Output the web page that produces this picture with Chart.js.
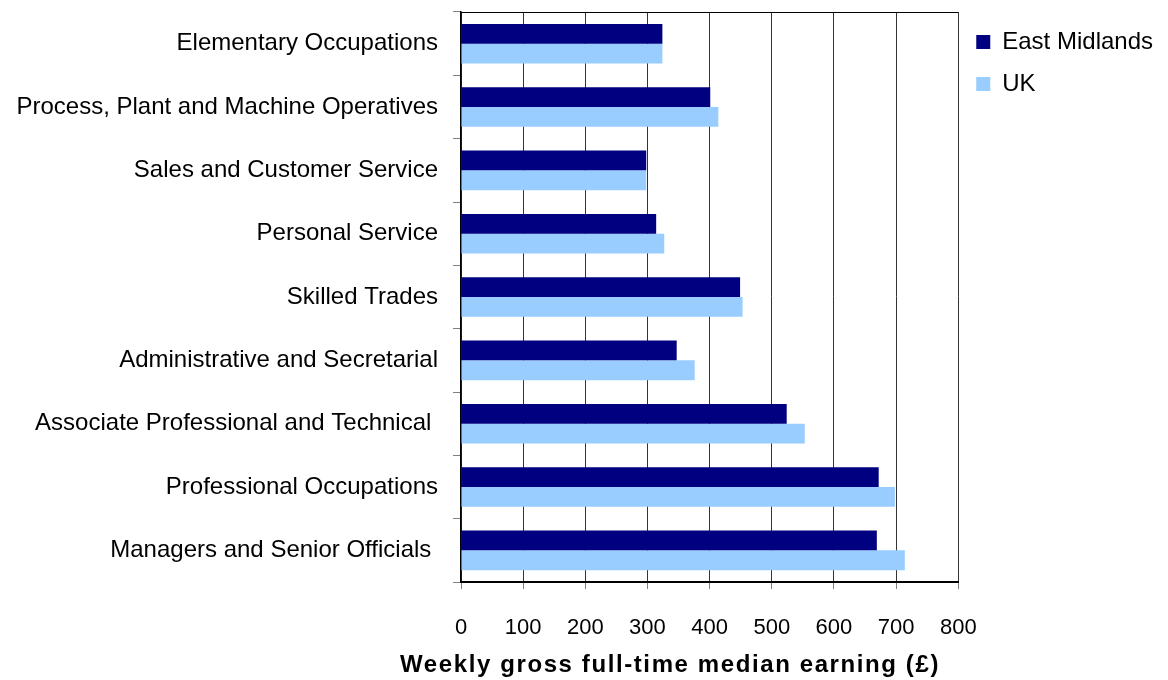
<!DOCTYPE html>
<html>
<head>
<meta charset="utf-8">
<script src="https://cdn.jsdelivr.net/npm/chart.js@4/dist/chart.umd.min.js"></script>
<style>
    html, body { margin: 0; padding: 0; background: #ffffff; }
    #wrap { width: 1168px; height: 680px; }
</style>
</head>
<body>
<div id="wrap"><canvas id="barChart" width="1168" height="680"></canvas></div>
<script>
var categories = [
    'Elementary Occupations',
    'Process, Plant and Machine Operatives',
    'Sales and Customer Service',
    'Personal Service',
    'Skilled Trades',
    'Administrative and Secretarial',
    'Associate Professional and Technical ',
    'Professional Occupations',
    'Managers and Senior Officials '
];
var eastMidlands = [324, 401, 298, 314, 449, 347, 524, 672, 669];
var uk = [324, 414, 298, 327, 453, 376, 553, 698, 714];
var xTicks = [0, 100, 200, 300, 400, 500, 600, 700, 800];
var axisTitle = 'Weekly gross full-time median earning (\u00a3)';

var FONT = 'Arial, "Liberation Sans", sans-serif';

// frame on top of the plot area + the x axis title (offset like the original)
var framePlugin = {
    id: 'frame',
    afterDraw: function (chart) {
        var ctx = chart.ctx;
        var area = chart.chartArea;
        ctx.save();
        ctx.strokeStyle = '#000000';
        ctx.lineWidth = 1;
        ctx.beginPath();
        ctx.moveTo(area.left, area.top + 0.5);
        ctx.lineTo(area.right, area.top + 0.5);
        ctx.stroke();

        ctx.fillStyle = '#000000';
        ctx.font = 'bold 24px ' + FONT;
        if ('letterSpacing' in ctx) {
            ctx.letterSpacing = '1.6px';
        }
        ctx.textAlign = 'center';
        ctx.textBaseline = 'middle';
        ctx.fillText(axisTitle, 670, 665);
        ctx.restore();
    }
};

var barCanvas = document.getElementById('barChart').getContext('2d');

var barData = {
    labels: categories,
    datasets: [
        {
            label: 'East Midlands',
            data: eastMidlands,
            backgroundColor: '#000080',
            categoryPercentage: 0.625,
            barPercentage: 1.0
        },
        {
            label: 'UK',
            data: uk,
            backgroundColor: '#99ccff',
            categoryPercentage: 0.625,
            barPercentage: 1.0
        }
    ]
};

var barOptions = {
    indexAxis: 'y',
    responsive: false,
    animation: false,
    layout: {
        padding: { top: 12, right: 5, bottom: 0, left: 0 }
    },
    plugins: {
        legend: {
            position: 'right',
            align: 'start',
            labels: {
                boxWidth: 14,
                boxHeight: 14,
                padding: 18,
                color: '#000000',
                font: { family: FONT, size: 24 }
            }
        },
        tooltip: { enabled: false }
    },
    scales: {
        x: {
            min: 0,
            max: 800,
            afterBuildTicks: function (scale) {
                scale.ticks = xTicks.map(function (v) { return { value: v }; });
            },
            afterFit: function (scale) {
                scale.height = 98;
            },
            grid: {
                color: '#333333',
                lineWidth: 1,
                tickColor: '#808080',
                tickLength: 7
            },
            border: { color: '#000000', width: 2 },
            ticks: {
                color: '#000000',
                padding: 26,
                font: { family: FONT, size: 22 }
            }
        },
        y: {
            afterFit: function (scale) {
                scale.width = 461;
                scale.paddingTop = 0;
                scale.paddingBottom = 0;
            },
            grid: {
                drawOnChartArea: false,
                tickColor: '#808080',
                tickLength: 8
            },
            border: { color: '#000000', width: 1.5 },
            ticks: {
                color: '#000000',
                padding: 15,
                autoSkip: false,
                font: { family: FONT, size: 24 }
            }
        }
    }
};

var barChart = new Chart(barCanvas, {
    type: 'bar',
    data: barData,
    options: barOptions,
    plugins: [framePlugin]
});
</script>
</body>
</html>
